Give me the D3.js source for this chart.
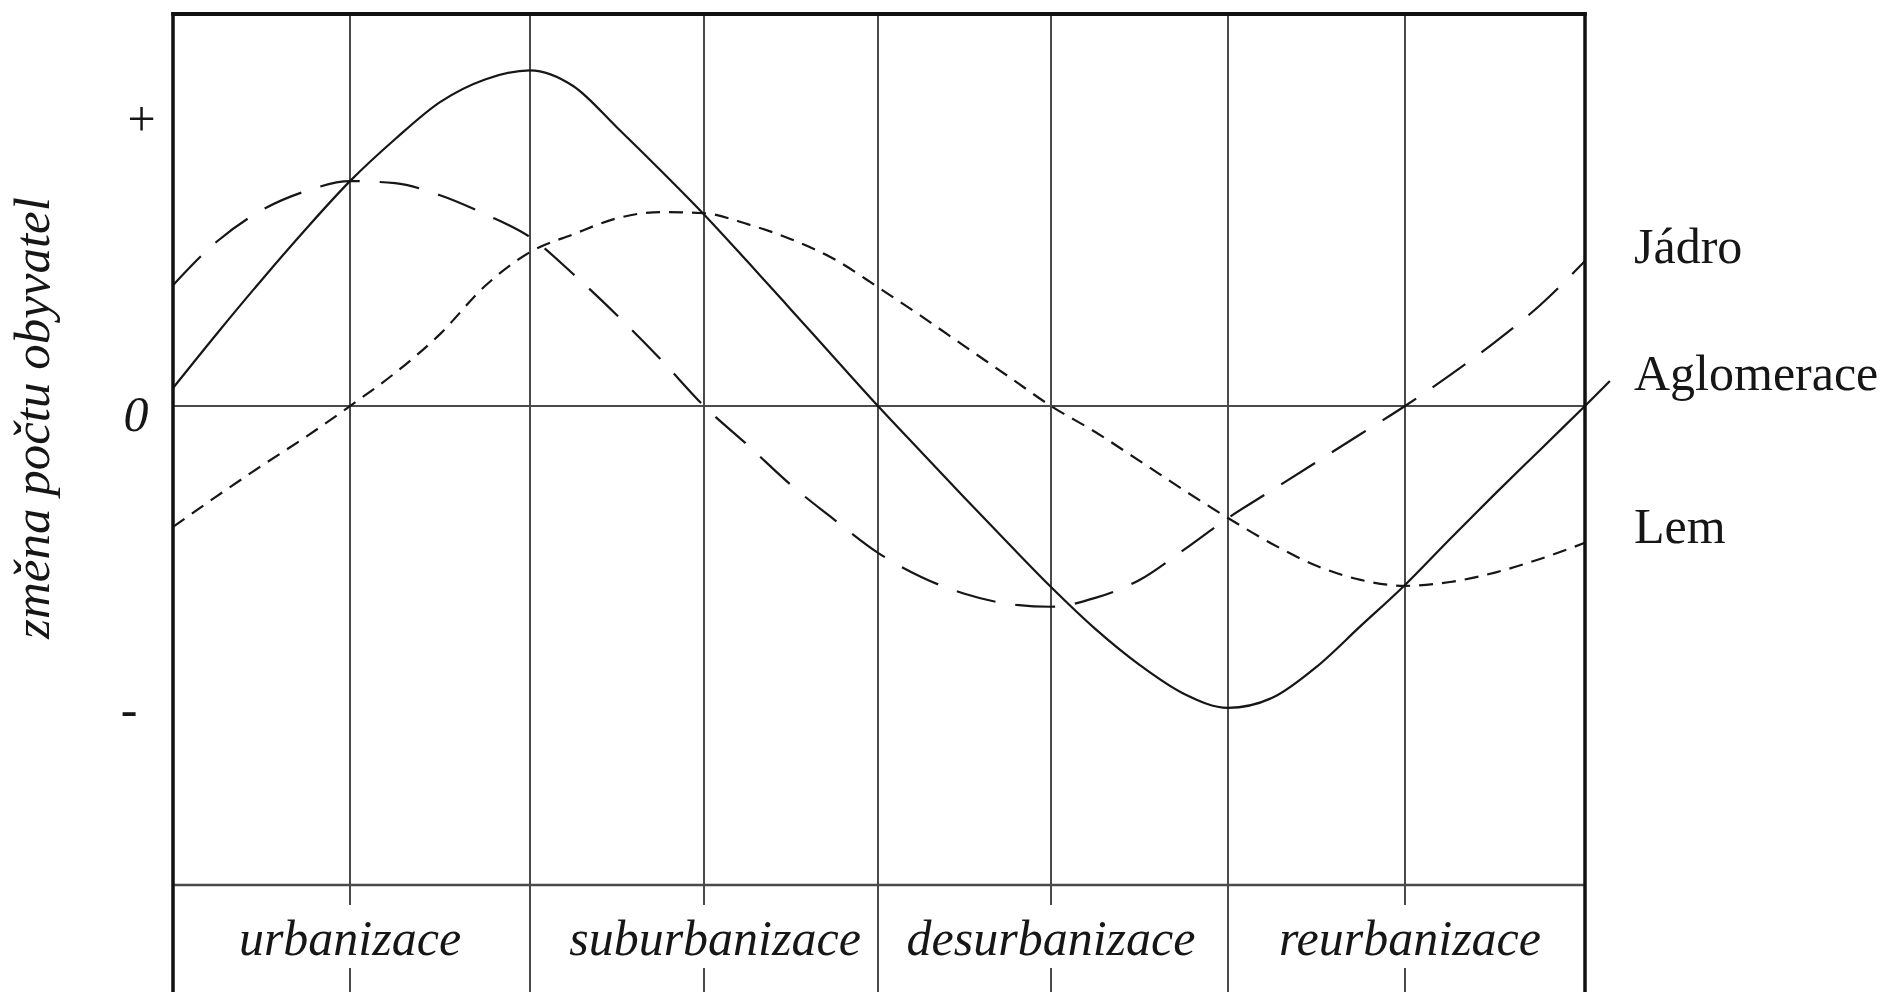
<!DOCTYPE html>
<html>
<head>
<meta charset="utf-8">
<script src="https://cdn.jsdelivr.net/npm/d3@7"></script>
<style>
  html, body { margin: 0; padding: 0; background: #fff; }
  svg { display: block; }
</style>
</head>
<body>
<svg id="chart" width="1890" height="992"></svg>
<script>
// Phase position along the cycle: integers are the vertical gridlines,
// every stage covers two units.
const phases = [
  0, 0.25, 0.5, 0.75, 1, 1.25, 1.5, 1.75,
  2, 2.25, 2.5, 2.75, 3, 3.25, 3.5, 3.75,
  4, 4.25, 4.5, 4.75, 5, 5.25, 5.5, 5.75,
  6, 6.25, 6.5, 6.75, 7, 7.25, 7.5, 7.75, 8
];

// Relative population change (+1 / 0 / -1 are the marked levels).
const jadro = [
  0.410, 0.559, 0.664, 0.729, 0.763, 0.756, 0.715, 0.651,
  0.573, 0.447, 0.308, 0.159, 0.000, -0.132, -0.268, -0.386,
  -0.498, -0.580, -0.637, -0.671, -0.681, -0.651, -0.590, -0.488,
  -0.380, -0.285, -0.190, -0.095, 0.000, 0.105, 0.217, 0.342, 0.492
];
const aglomerace = [
  0.061, 0.247, 0.427, 0.600, 0.763, 0.905, 1.031, 1.108,
  1.139, 1.085, 0.945, 0.800, 0.650, 0.490, 0.327, 0.163,
  0.000, -0.156, -0.311, -0.464, -0.614, -0.756, -0.878, -0.976,
  -1.024, -0.990, -0.885, -0.746, -0.607, -0.451, -0.298, -0.149, 0.000
];
const lem = [
  -0.410, -0.305, -0.203, -0.105, 0.000, 0.112, 0.244, 0.407,
  0.522, 0.583, 0.637, 0.658, 0.654, 0.617, 0.566, 0.498,
  0.403, 0.305, 0.203, 0.102, 0.000, -0.088, -0.186, -0.285,
  -0.380, -0.468, -0.542, -0.590, -0.610, -0.597, -0.565, -0.519, -0.464
];
// Short continuation of the agglomeration curve past the frame, towards its label.
const aglomeraceLeader = [[8, 0], [8.14, 0.085]];

const stages = ["urbanizace", "suburbanizace", "desurbanizace", "reurbanizace"];
const yTicks = [1, 0, -1];
const yTickLabels = ["+", "0", "-"];
const seriesNames = ["Jádro", "Aglomerace", "Lem"];
const yTitle = "změna počtu obyvatel";

// ---- layout ----
const W = 1890, H = 992;
const gridX = [173, 350, 530, 704, 878, 1051, 1228, 1405, 1585];
const frameLeft = gridX[0], frameRight = gridX[8], frameTop = 14, bandTop = 885;
const serif = "'Liberation Serif', 'Times New Roman', Times, serif";
const ink = "#161616", grid = "#4a4a4a";

const svg = d3.select("#chart");

const x = d3.scaleLinear().domain(d3.range(9)).range(gridX);
const y = d3.scaleLinear().domain([-1.625, 1.33]).range([bandTop, frameTop]);

// vertical gridlines: stage boundaries run through the label band,
// mid-stage lines are interrupted behind the stage names
const gridG = svg.append("g").attr("stroke", grid).attr("stroke-width", 2);
d3.range(1, 8).forEach(i => {
  const gx = x(i);
  if (i % 2 === 0) {
    gridG.append("line").attr("x1", gx).attr("x2", gx).attr("y1", frameTop).attr("y2", H + 2);
  } else {
    gridG.append("line").attr("x1", gx).attr("x2", gx).attr("y1", frameTop).attr("y2", 905);
    gridG.append("line").attr("x1", gx).attr("x2", gx).attr("y1", 968).attr("y2", H + 2);
  }
});
// zero line and top of the stage band
gridG.append("line").attr("x1", frameLeft).attr("x2", frameRight).attr("y1", y(0)).attr("y2", y(0));
gridG.append("line").attr("x1", frameLeft).attr("x2", frameRight).attr("y1", bandTop).attr("y2", bandTop)
  .attr("stroke-width", 2.5);

// curves
const line = d3.line()
  .x(d => x(d[0]))
  .y(d => y(d[1]))
  .curve(d3.curveMonotoneX);

const series = [
  { name: seriesNames[0], values: jadro, dash: "40 20" },
  { name: seriesNames[1], values: aglomerace, dash: null },
  { name: seriesNames[2], values: lem, dash: "14 9" }
];

const curveG = svg.append("g")
  .attr("fill", "none")
  .attr("stroke", ink)
  .attr("stroke-width", 2.2);

series.forEach(s => {
  const pts = phases.map((p, i) => [p, s.values[i]]);
  const path = curveG.append("path").attr("d", line(pts));
  if (s.dash) path.attr("stroke-dasharray", s.dash);
});
const xOut = d3.scaleLinear().domain([8, 9]).range([gridX[8], gridX[8] + 178]);
curveG.append("path")
  .attr("d", d3.line().x(d => xOut(d[0])).y(d => y(d[1]))(aglomeraceLeader));

// frame
const frameG = svg.append("g").attr("stroke", "#111").attr("fill", "none");
frameG.append("line").attr("x1", frameLeft).attr("x2", frameLeft)
  .attr("y1", frameTop - 1.75).attr("y2", H + 2).attr("stroke-width", 3.5);
frameG.append("line").attr("x1", frameRight).attr("x2", frameRight)
  .attr("y1", frameTop - 1.75).attr("y2", H + 2).attr("stroke-width", 3.5);
frameG.append("line").attr("x1", frameLeft - 1.75).attr("x2", frameRight + 1.75)
  .attr("y1", frameTop).attr("y2", frameTop).attr("stroke-width", 4);

// level marks as text (+, 0, -)
const tickLabelX = [141, 136, 129];
svg.append("g").selectAll("text")
  .data(yTicks)
  .join("text")
  .attr("x", (d, i) => tickLabelX[i])
  .attr("y", d => y(d) + 25)
  .attr("text-anchor", "middle")
  .attr("font-family", serif)
  .attr("font-style", "italic")
  .attr("font-size", 50)
  .attr("fill", ink)
  .text((d, i) => yTickLabels[i]);

// y axis title
svg.append("text")
  .attr("transform", `translate(49, 418) rotate(-90)`)
  .attr("text-anchor", "middle")
  .attr("font-family", serif)
  .attr("font-style", "italic")
  .attr("font-size", 51)
  .attr("fill", ink)
  .text(yTitle);

// stage names, centred on the mid-stage gridlines
const stageNudge = [0, 11, 0, 5];
svg.append("g").selectAll("text")
  .data(stages)
  .join("text")
  .attr("x", (d, i) => x(2 * i + 1) + stageNudge[i])
  .attr("y", 955)
  .attr("text-anchor", "middle")
  .attr("font-family", serif)
  .attr("font-style", "italic")
  .attr("font-size", 50)
  .attr("fill", ink)
  .text(d => d);

// series names at the right end of the curves
const nameBaselines = [263, 390, 543];
svg.append("g").selectAll("text")
  .data(series)
  .join("text")
  .attr("x", 1634)
  .attr("y", (d, i) => nameBaselines[i])
  .attr("font-family", serif)
  .attr("font-size", 50)
  .attr("fill", ink)
  .text(d => d.name);
</script>
</body>
</html>
